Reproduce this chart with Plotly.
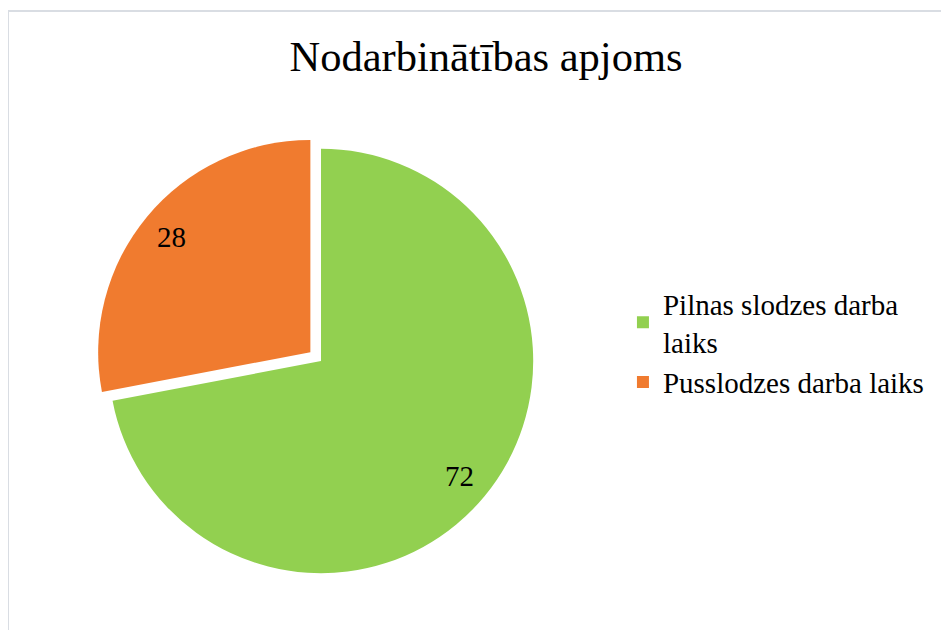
import math
import plotly.graph_objects as go

title_text = "Nodarbinātības apjoms"
categories = ["Pilnas slodzes darba<br>laiks", "Pusslodzes darba laiks"]
values = [72, 28]
colors = ["#92D050", "#F07B2F"]
pulls = [0, 0.065]

W, H = 949, 630
# pie domain in figure pixels (left, right, top, bottom)
dom_l, dom_r, dom_t, dom_b = 87, 539, 127, 579

fig = go.Figure(
    go.Pie(
        labels=categories,
        values=values,
        sort=False,
        direction="clockwise",
        rotation=0,
        pull=pulls,
        marker=dict(colors=colors, line=dict(width=0)),
        textinfo="none",
        domain=dict(x=[dom_l / W, dom_r / W], y=[1 - dom_b / H, 1 - dom_t / H]),
        hoverinfo="label+value",
    )
)

# data labels placed near the outer end of each slice (like "best fit")
cx = (dom_l + dom_r) / 2
cy = (dom_t + dom_b) / 2
r = min(dom_r - dom_l, dom_b - dom_t) / 2 / (1 + max(pulls))
total = sum(values)
cum = 0
annotations = []
for v, p in zip(values, pulls):
    mid = (cum + v / 2) / total
    cum += v
    th = 2 * math.pi * mid
    dist = (p + 0.85) * r
    px = cx + dist * math.sin(th)
    py = cy - dist * math.cos(th)
    annotations.append(
        dict(
            x=px / W,
            y=1 - py / H,
            xref="paper",
            yref="paper",
            text=str(v),
            showarrow=False,
            xanchor="center",
            yanchor="middle",
            font=dict(family="Liberation Serif", size=29, color="black"),
        )
    )

fig.update_layout(
    width=W,
    height=H,
    margin=dict(l=0, r=0, t=0, b=0),
    paper_bgcolor="white",
    plot_bgcolor="white",
    title=dict(
        text=title_text,
        x=0.5037,
        xanchor="center",
        y=0.9233,
        yanchor="middle",
        font=dict(family="Liberation Serif", size=42.5, color="black"),
    ),
    legend=dict(
        x=0.648,
        xanchor="left",
        y=0.468,
        yanchor="middle",
        font=dict(family="Liberation Serif", size=29, color="black"),
        tracegroupgap=10,
        itemclick=False,
        bgcolor="rgba(0,0,0,0)",
    ),
    showlegend=True,
    annotations=annotations,
    shapes=[
        dict(
            type="rect",
            xref="paper",
            yref="paper",
            x0=0,
            x1=1.02,
            y0=-0.02,
            y1=1 - 3 / H,
            line=dict(color="#D9DDE3", width=2),
            fillcolor="rgba(0,0,0,0)",
            layer="below",
        )
    ],
)

fig.write_html("out.html")
